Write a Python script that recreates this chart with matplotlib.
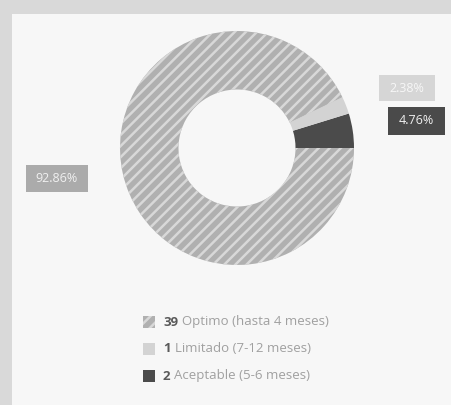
import matplotlib
matplotlib.use("Agg")
import matplotlib.pyplot as plt
from matplotlib.patches import Rectangle
import numpy as np

plt.rcParams['font.family'] = ['Open Sans', 'DejaVu Sans']
plt.rcParams['hatch.linewidth'] = 1.8

# Data (pie order: counter-clockwise from 3 o'clock)
categories = ["Aceptable (5-6 meses)", "Limitado (7-12 meses)", "Optimo (hasta 4 meses)"]
counts = [2, 1, 39]
pct_labels = ["4.76%", "2.38%", "92.86%"]
colors = ["#4b4b4b", "#d3d3d3", "#b0b0b0"]
hatches = [None, None, "///"]
legend_order = [2, 1, 0]

W, H = 452, 405
fig = plt.figure(figsize=(W / 100, H / 100), dpi=100)
fig.patch.set_facecolor("#d9d9d9")

# white panel
panel = fig.add_axes([12 / W, 0, 1 - 12 / W, 1 - 14 / H])
panel.set_facecolor("#f7f7f7")
panel.set_xticks([]); panel.set_yticks([])
for s in panel.spines.values():
    s.set_visible(False)

# pie axes
cx, cy, R = 237, 148, 117
half = 130
ax = fig.add_axes([(cx - half) / W, (H - cy - half) / H, 2 * half / W, 2 * half / H])
wedges, _ = ax.pie(counts, colors=colors, startangle=0, counterclock=True,
                   radius=1.0, wedgeprops=dict(width=0.5, linewidth=0))
ax.set_xlim(-half / R, half / R)
ax.set_ylim(-half / R, half / R)
ax.axis("off")
for w, h in zip(wedges, hatches):
    if h:
        w.set_hatch(h)
        w.set_edgecolor("#d8d8d8")
        w.set_linewidth(0)

# percentage label boxes (pixel layout: center x, center y, width, height)
label_box = [(416.5, 121, 57, 28), (407, 88, 56, 26), (57, 178.5, 62, 27)]
text_col = ["#f0f0f0", "#f7f7f7", "#f0f0f0"]
box_col = ["#4a4a4a", "#d6d6d6", "#ababab"]
for (px, py, bw, bh), lab, bc, tc in zip(label_box, pct_labels, box_col, text_col):
    fig.patches.append(Rectangle(((px - bw / 2) / W, 1 - (py + bh / 2) / H), bw / W, bh / H,
                                 transform=fig.transFigure, facecolor=bc, edgecolor="none"))
    fig.text(px / W, 1 - py / H, lab, ha="center", va="center", fontsize=9,
             color=tc)

# legend
leg_y = [322, 349, 376]
fig.canvas.draw()
r = fig.canvas.get_renderer()
for yy, i in zip(leg_y, legend_order):
    sq = Rectangle(((143) / W, 1 - (yy + 6) / H), 12 / W, 12 / H,
                   transform=fig.transFigure, facecolor=colors[i],
                   edgecolor="#d8d8d8" if hatches[i] else "none",
                   hatch=hatches[i], linewidth=0)
    fig.patches.append(sq)
    t = fig.text(163 / W, 1 - yy / H, str(counts[i]), ha="left", va="center",
                 fontsize=9.5, fontweight="bold", color="#5a5a5a")
    bb = t.get_window_extent(renderer=r)
    fig.text((bb.x1 + 4) / W, 1 - yy / H, categories[i], ha="left", va="center",
             fontsize=9.5, color="#a0a0a0")

fig.savefig("out.png", dpi=100, facecolor=fig.get_facecolor())
